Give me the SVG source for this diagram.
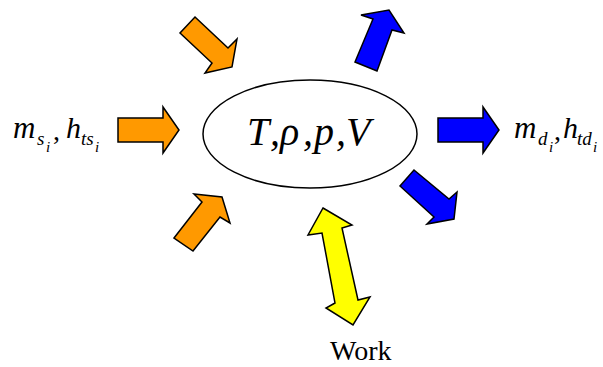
<svg xmlns="http://www.w3.org/2000/svg" width="603" height="367" viewBox="0 0 603 367">
<style>
.arr{stroke:#000;stroke-width:1.5;stroke-linejoin:miter}
.in{fill:#FF9900}
.out{fill:#0000FF}
.work{fill:#FFFF00}
.m{font-family:"Liberation Serif",serif;font-style:italic;fill:#000}
.up{font-family:"Liberation Serif",serif;fill:#000}
</style>
<rect width="603" height="367" fill="#fff"/>
<g id="control-volume">
<ellipse cx="310" cy="134" rx="107" ry="54" fill="none" stroke="#000" stroke-width="1.5"/>
<text class="m" font-size="40" y="145"><tspan x="247">T</tspan><tspan class="up" x="270">,</tspan><tspan x="280">ρ</tspan><tspan class="up" x="303">,</tspan><tspan x="314">p</tspan><tspan class="up" x="336">,</tspan><tspan x="346">V</tspan></text>
</g>
<g id="connectors">
<polygon class="arr in" points="118,118 163,118 163,107 179,130 163,153 163,142 118,142"/>
<polygon class="arr in" points="195,17 228,48 237,39 232,67 205,73 212,63 180,33"/>
<polygon class="arr in" points="174,238 202,202 194,194 222,197 230,223 220,217 193,251"/>
<polygon class="arr out" points="438,118 483,118 483,107 499,130 483,153 483,142 438,142"/>
<polygon class="arr out" points="355,62 373,19 361,15 389,10 404,33 392,30 377,71"/>
<polygon class="arr out" points="414,170 449,199 457,192 454,219 427,224 434,217 400,186"/>
<polygon class="arr work" points="323,208 352,225 342,228 358,300 370,297 353,325 326,308 335,303 322,233 308,235"/>
</g>
<g id="label-in">
<text class="m" font-size="31" x="13" y="138">m</text>
<text class="m" font-size="19" x="37" y="145">s</text>
<text class="m" font-size="15" x="46" y="152">i</text>
<text class="up" font-size="28" x="53" y="140">,</text>
<text class="m" font-size="30" x="66" y="138">h</text>
<text class="m" font-size="19" x="81" y="145">ts</text>
<text class="m" font-size="15" x="95" y="152">i</text>
</g>
<g id="label-out">
<text class="m" font-size="31" x="514" y="138">m</text>
<text class="m" font-size="19" x="538" y="145">d</text>
<text class="m" font-size="15" x="549" y="152">i</text>
<text class="up" font-size="28" x="554" y="140">,</text>
<text class="m" font-size="30" x="563" y="138">h</text>
<text class="m" font-size="19" x="577" y="145">td</text>
<text class="m" font-size="15" x="593" y="152">i</text>
</g>
<g id="label-work">
<text class="up" font-size="28" x="330" y="360">Work</text>
</g>
</svg>
